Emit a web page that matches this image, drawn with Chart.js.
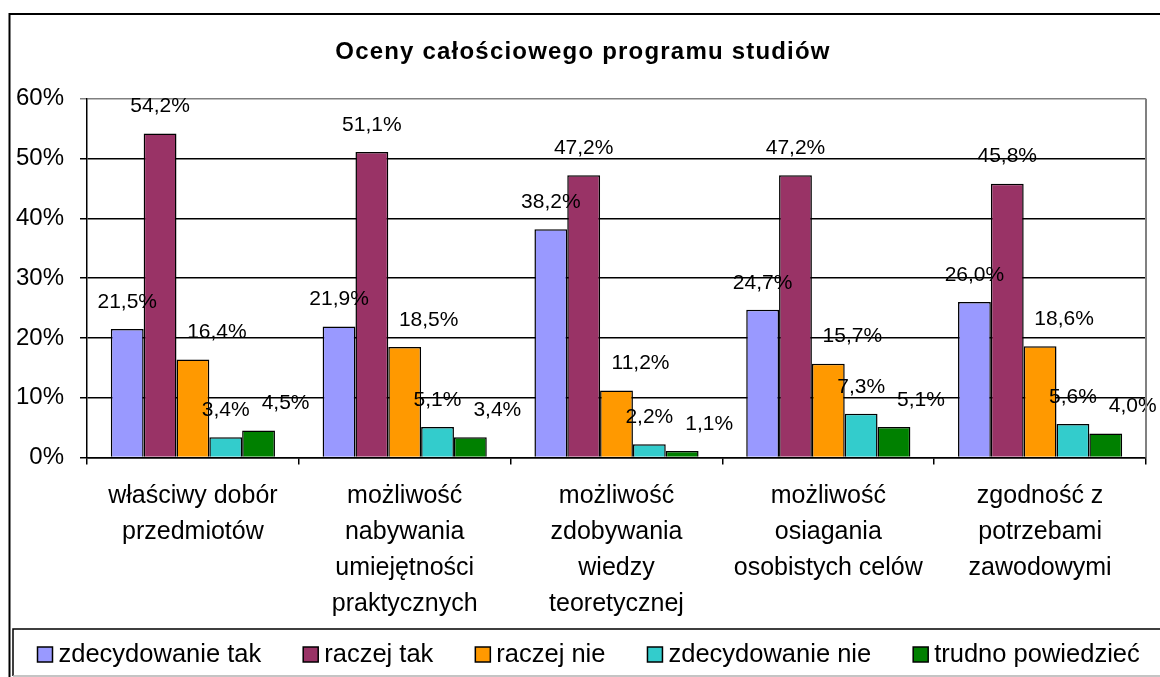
<!DOCTYPE html>
<html>
<head>
<meta charset="utf-8">
<title>Oceny całościowego programu studiów</title>
<script src="https://cdn.jsdelivr.net/npm/chart.js@4/dist/chart.umd.min.js"></script>
<style>
  html, body { margin: 0; padding: 0; background: #fff; }
  #wrap { width: 1160px; height: 677px; position: relative; }
</style>
</head>
<body>
<div id="wrap"><canvas id="ocenyChart"></canvas></div>
<script>
"use strict";

var chartTitle = 'Oceny całościowego programu studiów';

var categories = [
    ['właściwy dobór', 'przedmiotów'],
    ['możliwość', 'nabywania', 'umiejętności', 'praktycznych'],
    ['możliwość', 'zdobywania', 'wiedzy', 'teoretycznej'],
    ['możliwość', 'osiagania', 'osobistych celów'],
    ['zgodność z', 'potrzebami', 'zawodowymi']
];

var seriesNames = ['zdecydowanie tak', 'raczej tak', 'raczej nie', 'zdecydowanie nie', 'trudno powiedzieć'];

var zdecydowanieTak = [21.5, 21.9, 38.2, 24.7, 26.0];
var raczejTak = [54.2, 51.1, 47.2, 47.2, 45.8];
var raczejNie = [16.4, 18.5, 11.2, 15.7, 18.6];
var zdecydowanieNie = [3.4, 5.1, 2.2, 7.3, 5.6];
var trudnoPowiedziec = [4.5, 3.4, 1.1, 5.1, 4.0];

var yTicks = [0, 10, 20, 30, 40, 50, 60];

// styles
var seriesColors = ['#9999FF', '#993366', '#FF9900', '#33CCCC', '#008000'];
var labelNudgeX = [0, 0, 24, 0, 27]; // excel moved some labels sideways
var fontFamily = '"Liberation Sans", Arial, sans-serif';

var seriesValues = [zdecydowanieTak, raczejTak, raczejNie, zdecydowanieNie, trudnoPowiedziec];

var datasets = seriesNames.map(function (name, i) {
    return {
        label: name,
        data: seriesValues[i],
        backgroundColor: seriesColors[i],
        borderColor: '#000',
        borderWidth: 1.5,
        categoryPercentage: 0.775,
        barPercentage: 1
    };
});

function fmt(v) {
    return v.toFixed(1).replace('.', ',') + '%';
}

// outer frame + plot border
var framePlugin = {
    id: 'frame',
    beforeDraw: function (chart) {
        var ctx = chart.ctx;
        ctx.save();
        ctx.strokeStyle = '#000';
        ctx.lineWidth = 2;
        ctx.strokeRect(9.5, 14, 1300, 1000);
        ctx.restore();
    },
    afterDraw: function (chart) {
        var ctx = chart.ctx, a = chart.chartArea;
        ctx.save();
        ctx.strokeStyle = '#808080';
        ctx.lineWidth = 2;
        ctx.beginPath();
        ctx.moveTo(a.right, a.top);
        ctx.lineTo(a.right, a.bottom);
        ctx.stroke();
        ctx.restore();
    },
    afterLayout: function (chart) {
        var tb = chart.titleBlock;
        if (tb && !tb._spaced) {
            var orig = tb.draw;
            tb.draw = function () {
                var c = this.ctx;
                c.save();
                c.translate(10, 0);
                c.letterSpacing = '1.2px';
                orig.apply(this, arguments);
                c.restore();
            };
            tb._spaced = true;
        }
    }
};

// value labels above the bars
var valueLabels = {
    id: 'valueLabels',
    afterDatasetsDraw: function (chart) {
        var ctx = chart.ctx;
        ctx.save();
        ctx.font = '21px ' + fontFamily;
        ctx.fillStyle = '#000';
        ctx.textAlign = 'center';
        ctx.textBaseline = 'middle';
        chart.data.datasets.forEach(function (ds, i) {
            chart.getDatasetMeta(i).data.forEach(function (bar, j) {
                ctx.fillText(fmt(ds.data[j]), bar.x + labelNudgeX[i], bar.y - 27);
            });
        });
        ctx.restore();
    }
};

// boxed legend along the bottom
var boxLegend = {
    id: 'boxLegend',
    afterDraw: function (chart) {
        var ctx = chart.ctx;
        var top = 629, bottom = 676;
        ctx.save();
        ctx.strokeStyle = '#000';
        ctx.lineWidth = 1.5;
        ctx.beginPath();
        ctx.moveTo(13, bottom);
        ctx.lineTo(13, top);
        ctx.lineTo(1200, top);
        ctx.stroke();
        ctx.strokeStyle = '#b0b0b0';
        ctx.beginPath();
        ctx.moveTo(13, bottom);
        ctx.lineTo(1200, bottom);
        ctx.stroke();

        ctx.font = '25.5px ' + fontFamily;
        ctx.textBaseline = 'middle';
        var x = 37.5, cy = 655;
        chart.data.datasets.forEach(function (ds) {
            ctx.fillStyle = ds.backgroundColor;
            ctx.fillRect(x, cy - 8, 15, 15);
            ctx.strokeStyle = '#000';
            ctx.lineWidth = 1.5;
            ctx.strokeRect(x, cy - 8, 15, 15);
            ctx.fillStyle = '#000';
            ctx.fillText(ds.label, x + 21, cy);
            x += 21 + ctx.measureText(ds.label).width + 42;
        });
        ctx.restore();
    }
};

var ctx = document.getElementById('ocenyChart');
var chart = new Chart(ctx, {
    type: 'bar',
    data: {
        labels: categories,
        datasets: datasets
    },
    options: {
        responsive: true,
        maintainAspectRatio: false,
        animation: false,
        layout: {
            padding: { left: 0, right: 14, top: 0, bottom: 48 }
        },
        plugins: {
            legend: { display: false },
            tooltip: { enabled: false },
            title: {
                display: true,
                text: chartTitle,
                color: '#000',
                font: { family: fontFamily, size: 24, weight: 'bold' },
                padding: { top: 38, bottom: 32 }
            }
        },
        scales: {
            x: {
                grid: {
                    offset: true,
                    drawOnChartArea: false,
                    color: '#000',
                    lineWidth: 1.5,
                    tickLength: 7
                },
                border: { color: '#000', width: 1.5 },
                ticks: {
                    color: '#000',
                    padding: 14,
                    maxRotation: 0,
                    autoSkip: false,
                    font: { family: fontFamily, size: 25, lineHeight: 1.43 }
                },
                afterFit: function (scale) { scale.height = 171.5; }
            },
            y: {
                min: yTicks[0],
                max: yTicks[yTicks.length - 1],
                afterBuildTicks: function (scale) {
                    scale.ticks = yTicks.map(function (v) { return { value: v }; });
                },
                grid: {
                    color: function (c) { return c.tick && c.tick.value === 60 ? '#808080' : '#000'; },
                    lineWidth: 1.5,
                    tickLength: 7
                },
                border: { color: '#000', width: 1.5 },
                ticks: {
                    color: '#000',
                    padding: 16,
                    font: { family: fontFamily, size: 24 },
                    callback: function (v) { return v + '%'; }
                },
                afterFit: function (scale) { scale.width = 87; }
            }
        }
    },
    plugins: [framePlugin, valueLabels, boxLegend]
});
</script>
</body>
</html>
